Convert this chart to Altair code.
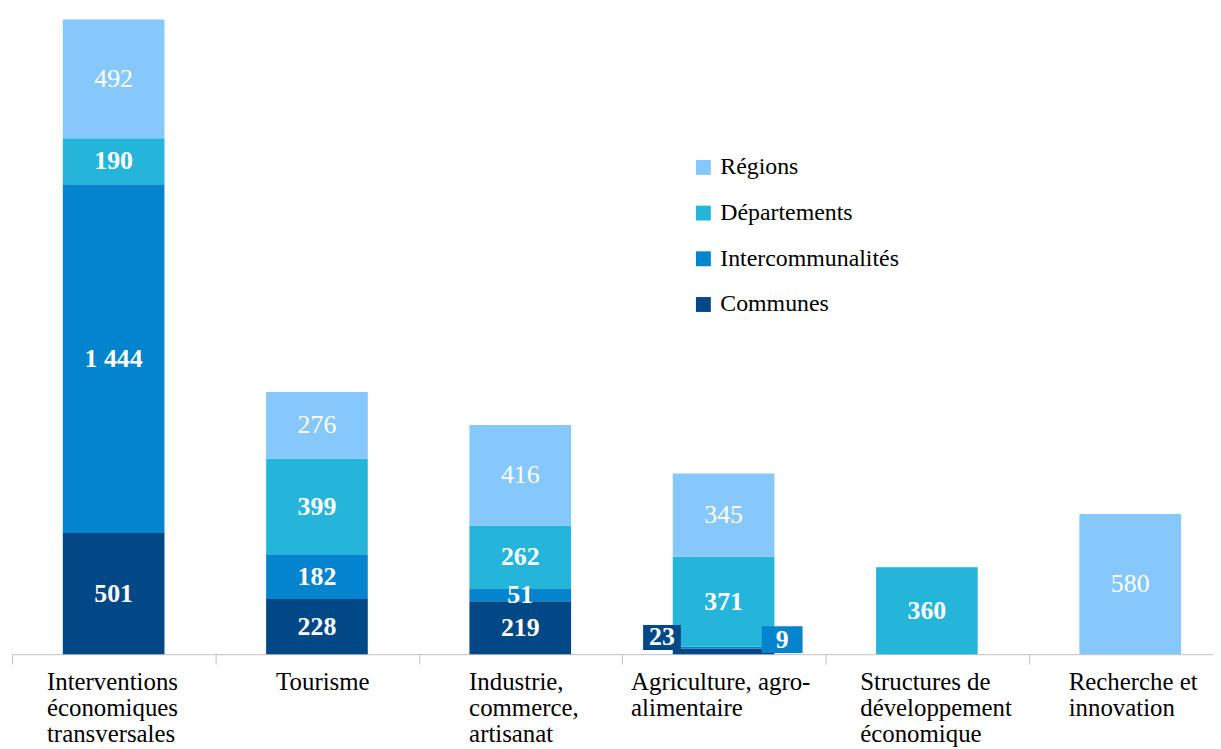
import altair as alt
import pandas as pd

categories = [
    "Interventions\néconomiques\ntransversales",
    "Tourisme",
    "Industrie,\ncommerce,\nartisanat",
    "Agriculture, agro-\nalimentaire",
    "Structures de\ndéveloppement\néconomique",
    "Recherche et\ninnovation",
]
series = ["Régions", "Départements", "Intercommunalités", "Communes"]
communes = [501, 228, 219, 23, 0, 0]
intercommunalites = [1444, 182, 51, 9, 0, 0]
departements = [190, 399, 262, 371, 360, 0]
regions = [492, 276, 416, 345, 0, 580]
colors = ["#86C8FB", "#25B5DA", "#0484CD", "#024886"]

rows = []
for rank, (name, vals) in enumerate([("Communes", communes), ("Intercommunalités", intercommunalites),
                                      ("Départements", departements), ("Régions", regions)]):
    for c, v in zip(categories, vals):
        if v > 0:
            rows.append({"category": c, "series": name, "value": v, "rank": rank})
df = pd.DataFrame(rows)

FONT = "Liberation Serif"
AGRI = categories[3]
AGRI_E = AGRI.replace("\n", "\\n")

x = alt.X("category:N", sort=categories, title=None,
          scale=alt.Scale(domain=categories, range=[0, 1228], paddingInner=0.5, paddingOuter=0.25),
          axis=alt.Axis(labelAngle=0, labelExpr="split(datum.label, '\\n')",
                        labelAlign="left",
                        labelOffset={"expr": "102 - 5.2*max(length(split(datum.value,'\\n')[0]), length(split(datum.value,'\\n')[1] || ''), length(split(datum.value,'\\n')[2] || ''))"},
                        labelFont=FONT, labelFontSize=25, labelColor="#000000",
                        labelLineHeight=26, labelPadding=6, tickOffset=-102,
                        tickSize=10, tickColor="#BFBFBF", domainColor="#BFBFBF",
                        labelBaseline="top", labelLimit=400))
yscale = alt.Scale(domain=[0, 2664], nice=False, zero=True)
color = alt.Color("series:N", scale=alt.Scale(domain=series, range=colors),
                  legend=alt.Legend(title=None, orient="none", legendX=684, legendY=146,
                                    symbolType="square", symbolSize=225, symbolStrokeWidth=0,
                                    labelFont=FONT, labelFontSize=24, labelColor="#000000",
                                    rowPadding=22, labelOffset=5, labelLimit=400))

base = alt.Chart(df).transform_stack(
    stack="value", groupby=["category"], as_=["v0", "v1"], sort=[alt.SortField("rank", order="ascending")]
).transform_calculate(
    mid="(datum.v0 + datum.v1) / 2",
    lbl="replace(format(datum.value, ','), ',', ' ')",
)

bars = base.mark_bar().encode(
    x=x,
    y=alt.Y("v0:Q", scale=yscale, axis=None),
    y2="v1:Q",
    color=color,
)

inside = base.transform_filter(
    f"!(datum.category == '{AGRI_E}' && (datum.series == 'Communes' || datum.series == 'Intercommunalités'))"
)

XC = alt.X("category:N", sort=categories)
YM = alt.Y("mid:Q", scale=yscale)

labels_bold = inside.transform_filter("datum.series != 'Régions'").mark_text(
    font=FONT, fontSize=26, fontWeight="bold", color="white", baseline="middle"
).encode(x=XC, y=YM, text="lbl:N")

labels_light = inside.transform_filter("datum.series == 'Régions'").mark_text(
    font=FONT, fontSize=26, color="white", baseline="middle"
).encode(x=XC, y=YM, text="lbl:N")

agri_c = base.transform_filter(f"datum.category == '{AGRI_E}' && datum.series == 'Communes'")
agri_i = base.transform_filter(f"datum.category == '{AGRI_E}' && datum.series == 'Intercommunalités'")

BOX = "M-1,-0.66H1V0.66H-1Z"
COLB = alt.Color("series:N", scale=alt.Scale(domain=series, range=colors), legend=None)
box_c = agri_c.mark_point(shape=BOX, filled=True, opacity=1, size=1444, xOffset=-62, yOffset=-14).encode(
    x=XC, y=YM, color=COLB)
txt_c = agri_c.mark_text(font=FONT, fontSize=26, fontWeight="bold", color="white", baseline="middle",
                         dx=-62, dy=-14).encode(x=XC, y=YM, text="lbl:N")
box_i = agri_i.mark_point(shape=BOX, filled=True, opacity=1, size=1681, xOffset=59, yOffset=-8).encode(
    x=XC, y=YM, color=COLB)
txt_i = agri_i.mark_text(font=FONT, fontSize=26, fontWeight="bold", color="white", baseline="middle",
                         dx=59, dy=-8).encode(x=XC, y=YM, text="lbl:N")

chart = alt.layer(bars, labels_bold, labels_light, box_c, txt_c, box_i, txt_i).properties(
    width=1209, height=648,
    autosize=alt.AutoSizeParams(type="none"),
    padding={"left": 4, "top": 0, "right": 0, "bottom": 93},
).configure_view(stroke=None)

chart.save("out.html", embed_options={"renderer": "svg", "actions": False})
